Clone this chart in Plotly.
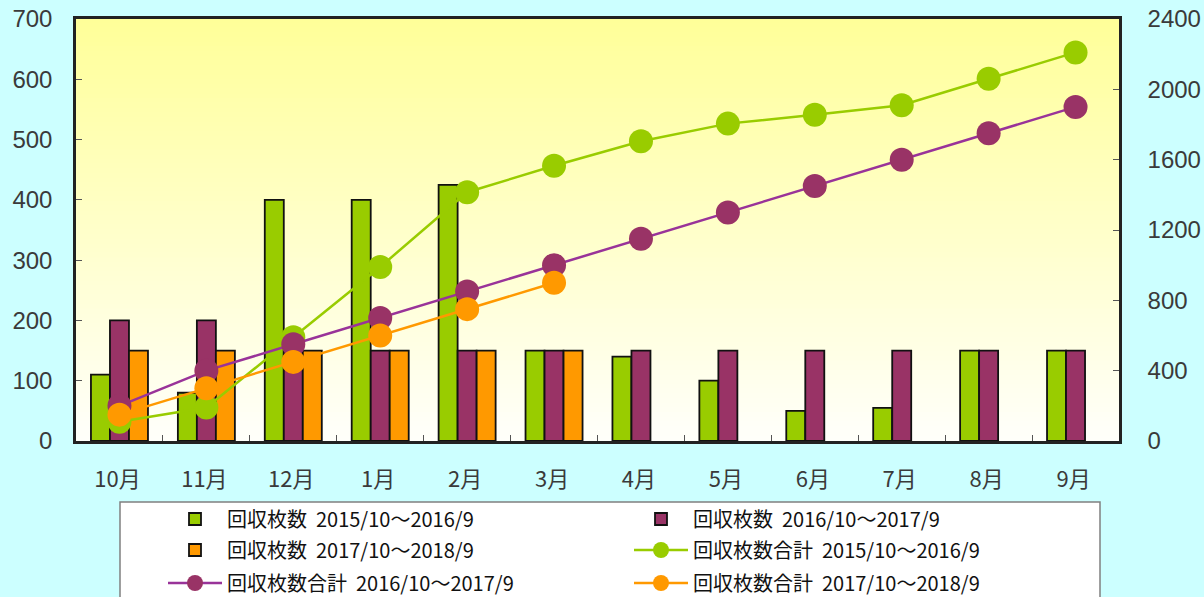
import plotly.graph_objects as go

months = ["10月", "11月", "12月", "1月", "2月", "3月", "4月", "5月", "6月", "7月", "8月", "9月"]

bars_2015 = [110, 80, 400, 400, 425, 150, 140, 100, 50, 55, 150, 150]
bars_2016 = [200, 200, 150, 150, 150, 150, 150, 150, 150, 150, 150, 150]
bars_2017 = [150, 150, 150, 150, 150, 150, None, None, None, None, None, None]

total_2015 = [110, 190, 590, 990, 1415, 1565, 1705, 1805, 1855, 1910, 2060, 2210]
total_2016 = [200, 400, 550, 700, 850, 1000, 1150, 1300, 1450, 1600, 1750, 1900]
total_2017 = [150, 300, 450, 600, 750, 900, None, None, None, None, None, None]

names_bar = ["回収枚数  2015/10〜2016/9", "回収枚数  2016/10〜2017/9", "回収枚数  2017/10〜2018/9"]
names_line = ["回収枚数合計  2015/10〜2016/9", "回収枚数合計  2016/10〜2017/9", "回収枚数合計  2017/10〜2018/9"]

GREEN = "#99CC00"
PURPLE = "#993366"
PURPLE_LINE = "#993399"
ORANGE = "#FF9900"

W, H = 1204, 597
L, R, T, B = 76, 85, 19, 156

# legend row assignment (two entries per row, three rows)
bar_legends = ["legend", "legend", "legend2"]
line_legends = ["legend2", "legend3", "legend3"]

fig = go.Figure()
for vals, name, col, lg in zip([bars_2015, bars_2016, bars_2017], names_bar, [GREEN, PURPLE, ORANGE], bar_legends):
    fig.add_trace(go.Bar(x=months, y=vals, name=name, legend=lg,
                         marker=dict(color=col, line=dict(color="#111111", width=1.8)), yaxis="y"))
for vals, name, lc, mc, lg in zip([total_2015, total_2016, total_2017], names_line,
                                  [GREEN, PURPLE_LINE, ORANGE], [GREEN, PURPLE, ORANGE], line_legends):
    fig.add_trace(go.Scatter(x=months, y=vals, name=name, mode="lines+markers", yaxis="y2", legend=lg,
                             line=dict(color=lc, width=2.5),
                             marker=dict(color=mc, size=24, line=dict(width=0))))

# vertical gradient background inside plot area
shapes = []
N = 90
top = (255, 255, 153)
bot = (255, 255, 250)
for i in range(N):
    t = i / (N - 1)
    c = tuple(int(round(top[k] + (bot[k] - top[k]) * t)) for k in range(3))
    y1 = 1 - i / N
    y0 = 1 - (i + 1) / N
    shapes.append(dict(type="rect", xref="x domain", yref="y domain", x0=0, x1=1, y0=y0, y1=y1 + 0.002,
                       fillcolor="rgb(%d,%d,%d)" % c, line=dict(width=0), layer="below"))


def px_x(p):
    return (p - L) / (W - L - R)


def px_y(p):
    return (H - B - p) / (H - T - B)


# legend box
shapes.append(dict(type="rect", xref="paper", yref="paper", x0=px_x(120), x1=px_x(1100), y0=px_y(615), y1=px_y(502),
                   fillcolor="white", line=dict(color="#808080", width=1.5), layer="below"))

tickfont = dict(family="Liberation Sans, sans-serif", size=24, color="#3a3a3a")
legfont = dict(family="Noto Sans CJK JP", size=20, color="#111111")


def leg(ypx):
    return dict(orientation="h", x=px_x(163), xanchor="left", y=px_y(ypx), yanchor="middle",
                bgcolor="rgba(0,0,0,0)", borderwidth=0, entrywidth=397, entrywidthmode="pixels",
                font=legfont, traceorder="normal", itemwidth=54)


fig.update_layout(
    width=W, height=H,
    margin=dict(l=L, r=R, t=T, b=B, autoexpand=False),
    paper_bgcolor="#CCFFFF",
    plot_bgcolor="rgba(0,0,0,0)",
    barmode="group", bargap=0.344, bargroupgap=0,
    shapes=shapes,
    showlegend=True,
    legend=leg(519), legend2=leg(550), legend3=leg(583),
    xaxis=dict(range=[-0.5, 11.5], showline=True, linecolor="#222222", linewidth=2.5, mirror=True, ticks="inside",
               tickson="boundaries", ticklen=6, tickcolor="#555555",
               tickfont=dict(family="Noto Sans CJK JP", size=22, color="#3a3a3a"),
               showgrid=False, ticklabelstandoff=17, ticklabelshift=-2),
    yaxis=dict(range=[0, 700], dtick=100, showline=True, linecolor="#222222", linewidth=2.5, ticks="inside",
               ticklen=6, tickcolor="#555555", tickfont=tickfont, showgrid=False, zeroline=False,
               ticklabelstandoff=16),
    yaxis2=dict(range=[0, 2400], dtick=400, overlaying="y", side="right", showline=True, linecolor="#222222",
                linewidth=2.5, ticks="inside", ticklen=6, tickcolor="#555555", tickfont=tickfont, showgrid=False,
                zeroline=False, ticklabelstandoff=21),
)

fig.write_html("out.html", config={"displayModeBar": False},
               post_script="document.body.style.margin='0';document.body.style.background='#CCFFFF';")
